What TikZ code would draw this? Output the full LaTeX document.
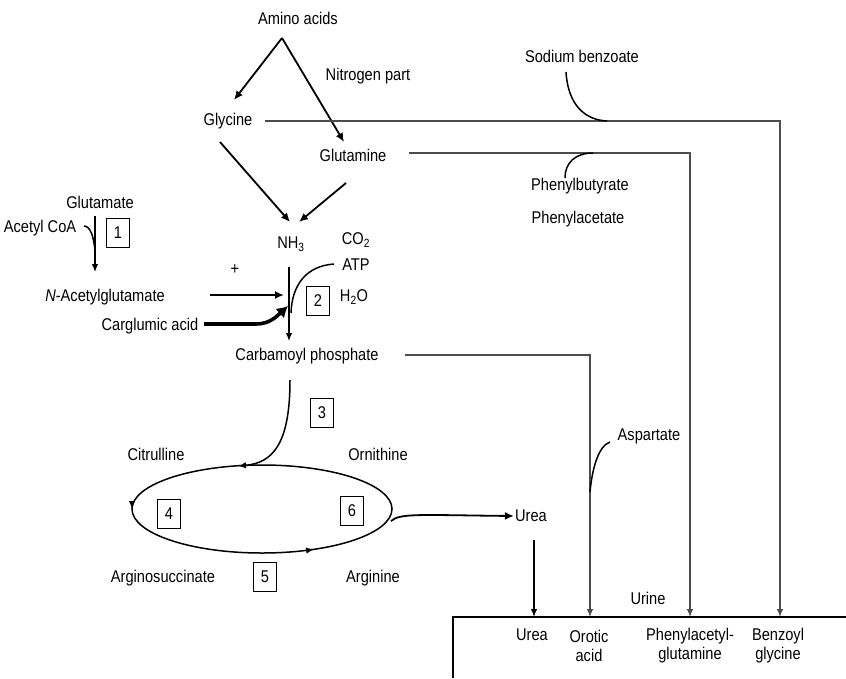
\documentclass[tikz,border=0pt]{standalone}
\usepackage{fontspec}
\setmainfont{Liberation Sans}[FakeStretch=0.86]
\usetikzlibrary{arrows.meta,decorations.markings}
\begin{document}
\begin{tikzpicture}[x=1pt,y=-1pt,
  lbl/.style={inner sep=1pt,font=\fontsize{17}{19}\selectfont},
  numbox/.style={draw,line width=1.2pt,minimum width=23pt,minimum height=29pt,inner sep=0pt,font=\fontsize{17}{19}\selectfont},
  arr/.style={line width=1.8pt,-{Latex[length=9pt,width=8pt]}},
  thin arr/.style={line width=1.3pt,-{Latex[length=8pt,width=6.5pt]}},
  route/.style={line width=1.2pt,draw=black!70,-{Latex[length=8pt,width=6.5pt]}},
  hook/.style={line width=1.5pt}]
\useasboundingbox (0,0) rectangle (846,678);
% top
\node[lbl] (amino) at (298,18) {Amino acids};
\coordinate (apex) at (282,38);
\node[lbl] (nitro) at (368,76) {Nitrogen part};
\node[lbl] (gly) at (228,121) {Glycine};
\node[lbl] (gln) at (353,155) {Glutamine};
\draw[arr] (apex) -- (234,100);
\draw[arr] (apex) -- (344,142);
\node[lbl] (sodium) at (582,56) {Sodium benzoate};
\node[lbl] (pbut) at (580,186) {Phenylbutyrate};
\node[lbl] (pace) at (578,219) {Phenylacetate};
% NH3 region
\node[lbl] (nh3) at (291,244) {NH\textsubscript{3}};
\node[lbl] (co2) at (356,240) {CO\textsubscript{2}};
\node[lbl] (atp) at (356,265) {ATP};
\node[lbl] (h2o) at (354,297) {H\textsubscript{2}O};
\node[numbox] (b2) at (318,301) {2};
\draw[arr] (220,142) -- (290,222);
\draw[arr] (346,183) -- (299,222);
\node[lbl] (carb) at (307,356) {Carbamoyl phosphate};
\draw[thin arr] (289,267) -- (289,341);
\draw[hook] (334,264) .. controls (306,266) and (292,285) .. (291,313);
\node[lbl] (plus) at (235,270) {+};
% left
\node[lbl] (glu) at (100,202) {Glutamate};
\node[lbl] (acoa) at (40,228) {Acetyl CoA};
\node[numbox] (b1) at (118,233) {1};
\draw[thin arr] (95,216) -- (95,272);
\draw[hook] (84,226) .. controls (90,226) and (94,236) .. (95,252);
\node[lbl] (nag) at (105,297) {\textit{N}-Acetylglutamate};
\node[lbl] (carg) at (150,326) {Carglumic acid};
\draw[arr] (210,295) -- (284,295);
\draw[line width=3.6pt,-{Latex[length=11pt,width=13pt]}] (204,324) -- (256,324) .. controls (270,324) and (277,316) .. (288,306);
% cycle
\node[numbox] (b3) at (322,413) {3};
\node[lbl] (cit) at (156,454) {Citrulline};
\node[lbl] (orn) at (378,454) {Ornithine};
\node[lbl] (asuc) at (163,578) {Arginosuccinate};
\node[lbl] (arg) at (373,578) {Arginine};
\node[numbox] (b4) at (169,514) {4};
\node[numbox] (b6) at (352,511) {6};
\node[numbox] (b5) at (265,577) {5};
\draw[line width=1.5pt,postaction={decorate},decoration={markings,
  mark=at position 0.16 with {\arrowreversed{Latex[length=8pt,width=6.5pt]}},
  mark=at position 0.5 with {\arrowreversed{Latex[length=8pt,width=6.5pt]}}}]
  (262,509) ellipse [x radius=130, y radius=44];
\draw[line width=1.5pt,-{Latex[length=8pt,width=6.5pt]}] (290,380) .. controls (290,445) and (272,463) .. (238,466);
\node[lbl] (urea) at (531,516) {Urea};
\draw[arr] (391,521) .. controls (400,513) and (420,515) .. (urea.west);
% right routes
\node[lbl] (asp) at (649,436) {Aspartate};
\node[lbl] (urine) at (648,598) {Urine};
\coordinate (bu) at (534,617);
\coordinate (bo) at (590,617);
\coordinate (bp) at (690,617);
\coordinate (bb) at (780,617);
\draw[route] (265,121) -- (780,121) -- (bb);
\draw[route] (409,153) -- (690,153) -- (bp);
\draw[route] (405,355) -- (590,355) -- (bo);
\draw[thin arr] (534,540) -- (bu);
\draw[hook] (566,72) .. controls (568,105) and (585,120) .. (607,121);
\draw[hook] (565,178) .. controls (565,163) and (575,153) .. (593,153);
\draw[hook] (610,442) .. controls (598,446) and (592,470) .. (590,492);
\draw[line width=1.5pt] (453,678) -- (453,617) -- (846,617);
\node[lbl] (ureab) at (532,635) {Urea};
\node[lbl,align=center] (orot) at (589,646) {Orotic\\acid};
\node[lbl,align=center] (pag) at (690,646) {Phenylacetyl-\\glutamine};
\node[lbl,align=center] (bg) at (778,646) {Benzoyl\\glycine};
\end{tikzpicture}
\end{document}
